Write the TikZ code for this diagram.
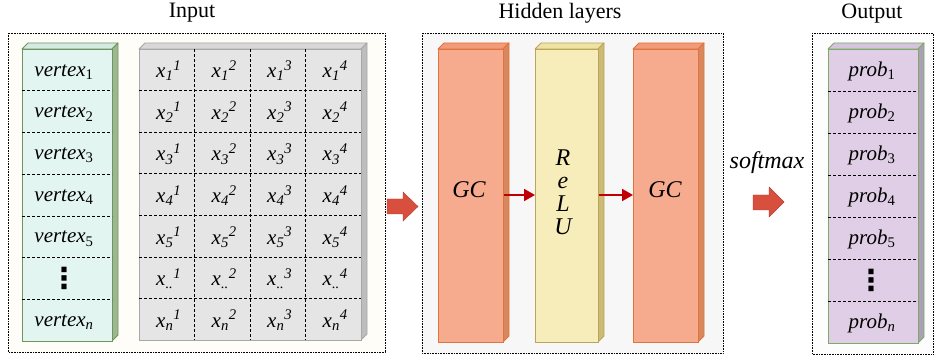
\documentclass[tikz,border=0pt]{standalone}
\usepackage{fontspec}
\setmainfont{Liberation Serif}
\newfontfamily\dejavu{DejaVu Sans}
\usetikzlibrary{arrows.meta}
\definecolor{inbg}{HTML}{FFFDF7}
\definecolor{hidbg}{HTML}{F7F7F7}
\definecolor{outbg}{HTML}{FDFDFD}
\definecolor{vfill}{HTML}{E2F5F1}
\definecolor{vtopc}{HTML}{D3EBE2}
\definecolor{vsidec}{HTML}{9DB88F}
\definecolor{vline}{HTML}{6F9460}
\definecolor{gfill}{HTML}{E5E5E5}
\definecolor{gtopc}{HTML}{D8D8D8}
\definecolor{gsidec}{HTML}{BDBDBD}
\definecolor{gline}{HTML}{A8A8A8}
\definecolor{cfill}{HTML}{F7AB8E}
\definecolor{ctopc}{HTML}{F39A78}
\definecolor{csidec}{HTML}{D8885E}
\definecolor{cline}{HTML}{E0743F}
\definecolor{rfill}{HTML}{F7EDBB}
\definecolor{rtopc}{HTML}{EFE2A5}
\definecolor{rsidec}{HTML}{CDBB75}
\definecolor{rline}{HTML}{BBA55A}
\definecolor{pfill}{HTML}{E0CEE6}
\definecolor{ptopc}{HTML}{D5C4DD}
\definecolor{psidec}{HTML}{ACA0B4}
\definecolor{pline}{HTML}{7FA86B}
\definecolor{bigarr}{HTML}{D94F3D}
\definecolor{smallarr}{HTML}{C00000}
\newcommand\cubebox[6]{%
  \filldraw[#6top] (#2,#3) -- (#2+6,#3-6) -- (#4+6,#3-6) -- (#4,#3) -- cycle;
  \filldraw[#6side] (#4,#3) -- (#4+6,#3-6) -- (#4+6,#5-6) -- (#4,#5) -- cycle;
  \node[#6front, anchor=north west, minimum width={#4-#2}, minimum height={#5-#3}] (#1) at (#2,#3) {};
}
\newcommand\gx[2]{\textit{x}\textsubscript{\textit{#1}}\textsuperscript{\textit{#2}}}
\begin{document}
\begin{tikzpicture}[x=1pt,y=-1pt,
  panel/.style={densely dotted, line width=0.6pt, draw=black},
  title/.style={font=\fontsize{22}{26}\selectfont, inner sep=0pt},
  lab/.style={font=\fontsize{21}{24}\selectfont\itshape, inner sep=0pt},
  biglab/.style={font=\fontsize{24}{27}\selectfont\itshape, inner sep=0pt},
  dotlab/.style={font=\fontsize{29}{32}\selectfont\dejavu\bfseries, inner sep=0pt},
  sep/.style={densely dashed, line width=0.5pt, draw=black},
  vtop/.style={fill=vtopc, draw=vline, line width=0.8pt, line join=round},
  vside/.style={fill=vsidec, draw=vline, line width=0.8pt, line join=round},
  vfront/.style={fill=vfill, draw=vline, line width=1pt, inner sep=0pt},
  gtop/.style={fill=gtopc, draw=gline, line width=0.8pt, line join=round},
  gside/.style={fill=gsidec, draw=gline, line width=0.8pt, line join=round},
  gfront/.style={fill=gfill, draw=gline, line width=1pt, inner sep=0pt},
  ctop/.style={fill=ctopc, draw=cline, line width=0.8pt, line join=round},
  cside/.style={fill=csidec, draw=cline, line width=0.8pt, line join=round},
  cfront/.style={fill=cfill, draw=cline, line width=1pt, inner sep=0pt},
  rtop/.style={fill=rtopc, draw=rline, line width=0.8pt, line join=round},
  rside/.style={fill=rsidec, draw=rline, line width=0.8pt, line join=round},
  rfront/.style={fill=rfill, draw=rline, line width=1pt, inner sep=0pt},
  ptop/.style={fill=ptopc, draw=pline, line width=0.8pt, line join=round},
  pside/.style={fill=psidec, draw=pline, line width=0.8pt, line join=round},
  pfront/.style={fill=pfill, draw=pline, line width=1pt, inner sep=0pt},
  redarrow/.style={draw=smallarr, line width=2pt, -{Triangle[length=11pt,width=12pt]}},
  blockarrow/.style={fill=bigarr, draw=bigarr!80!black, line width=0.4pt, line join=miter}
]
\useasboundingbox (0,0) rectangle (934,358);
% panels
\draw[panel, fill=inbg] (8,33) rectangle (385,352);
\draw[panel, fill=hidbg] (422,33) rectangle (723,353);
\draw[panel, fill=outbg] (812,33) rectangle (933,354);
% titles
\node[title] (tin) at (192,13) {Input};
\node[title] (thid) at (560,13) {Hidden layers};
\node[title] (tout) at (872,14) {Output};
% vertex column
\cubebox{vcol}{22}{49}{112}{341}{v}
\foreach \i in {1,...,6} \draw[sep] (22,{49+\i*41.71}) -- (112,{49+\i*41.71});
\foreach \s [count=\r] in {1,2,3,4,5} \node[lab] (v\r) at (64,{49+(\r-0.5)*41.71+2}) {vertex\textsubscript{\upshape\s}};
\node[dotlab] (v6) at (64,{49+5.5*41.71}) {⋮};
\node[lab] (v7) at (64,{49+6.5*41.71+2}) {vertex\textsubscript{n}};
% feature grid
\cubebox{grid}{139}{49}{361}{340}{g}
\foreach \i in {1,...,6} \draw[sep] (139,{49+\i*41.57}) -- (361,{49+\i*41.57});
\foreach \j in {1,2,3} \draw[sep] ({139+\j*55.5},49) -- ({139+\j*55.5},340);
\foreach \s [count=\r] in {1,2,3,4,5,{..},n}
  \foreach \c in {1,2,3,4}
    \node[lab] (g\r\c) at ({139+(\c-0.5)*55.5+2},{49+(\r-0.5)*41.57+1}) {\gx{\s}{\c}};
% big arrow 1
\fill[blockarrow] (387,199) -- (403,199) -- (403,192) -- (418,206.5) -- (403,221) -- (403,214) -- (387,214) -- cycle;
\coordinate (ba1) at (402,206);
% hidden layers
\cubebox{gc1}{438}{49}{503}{342}{c}
\cubebox{relu}{535}{49}{598}{342}{r}
\cubebox{gc2}{633}{49}{698}{342}{c}
\node[biglab] (gc1t) at (469,190) {GC};
\node[biglab, align=center, font=\fontsize{24}{23}\selectfont\itshape] (relut) at (563,192) {R\\e\\L\\U};
\node[biglab] (gc2t) at (665,190) {GC};
\draw[redarrow] (gc1.east |- 0,195) -- (relu.west |- 0,195);
\draw[redarrow] (relu.east |- 0,195) -- (gc2.west |- 0,195);
% softmax
\node[biglab] (sm) at (767,163) {softmax};
\fill[blockarrow] (753,195) -- (769,195) -- (769,187) -- (784,202) -- (769,217) -- (769,210) -- (753,210) -- cycle;
\coordinate (ba2) at (768,202);
% output column
\cubebox{pcol}{828}{49}{918}{343}{p}
\foreach \i in {1,...,6} \draw[sep] (828,{49+\i*42}) -- (918,{49+\i*42});
\foreach \s [count=\r] in {1,2,3,4,5} \node[lab] (p\r) at (872,{49+(\r-0.5)*42+1}) {prob\textsubscript{\upshape\s}};
\node[dotlab] (p6) at (871,{49+5.5*42}) {⋮};
\node[lab] (p7) at (872,{49+6.5*42+1}) {prob\textsubscript{n}};
\end{tikzpicture}
\end{document}
